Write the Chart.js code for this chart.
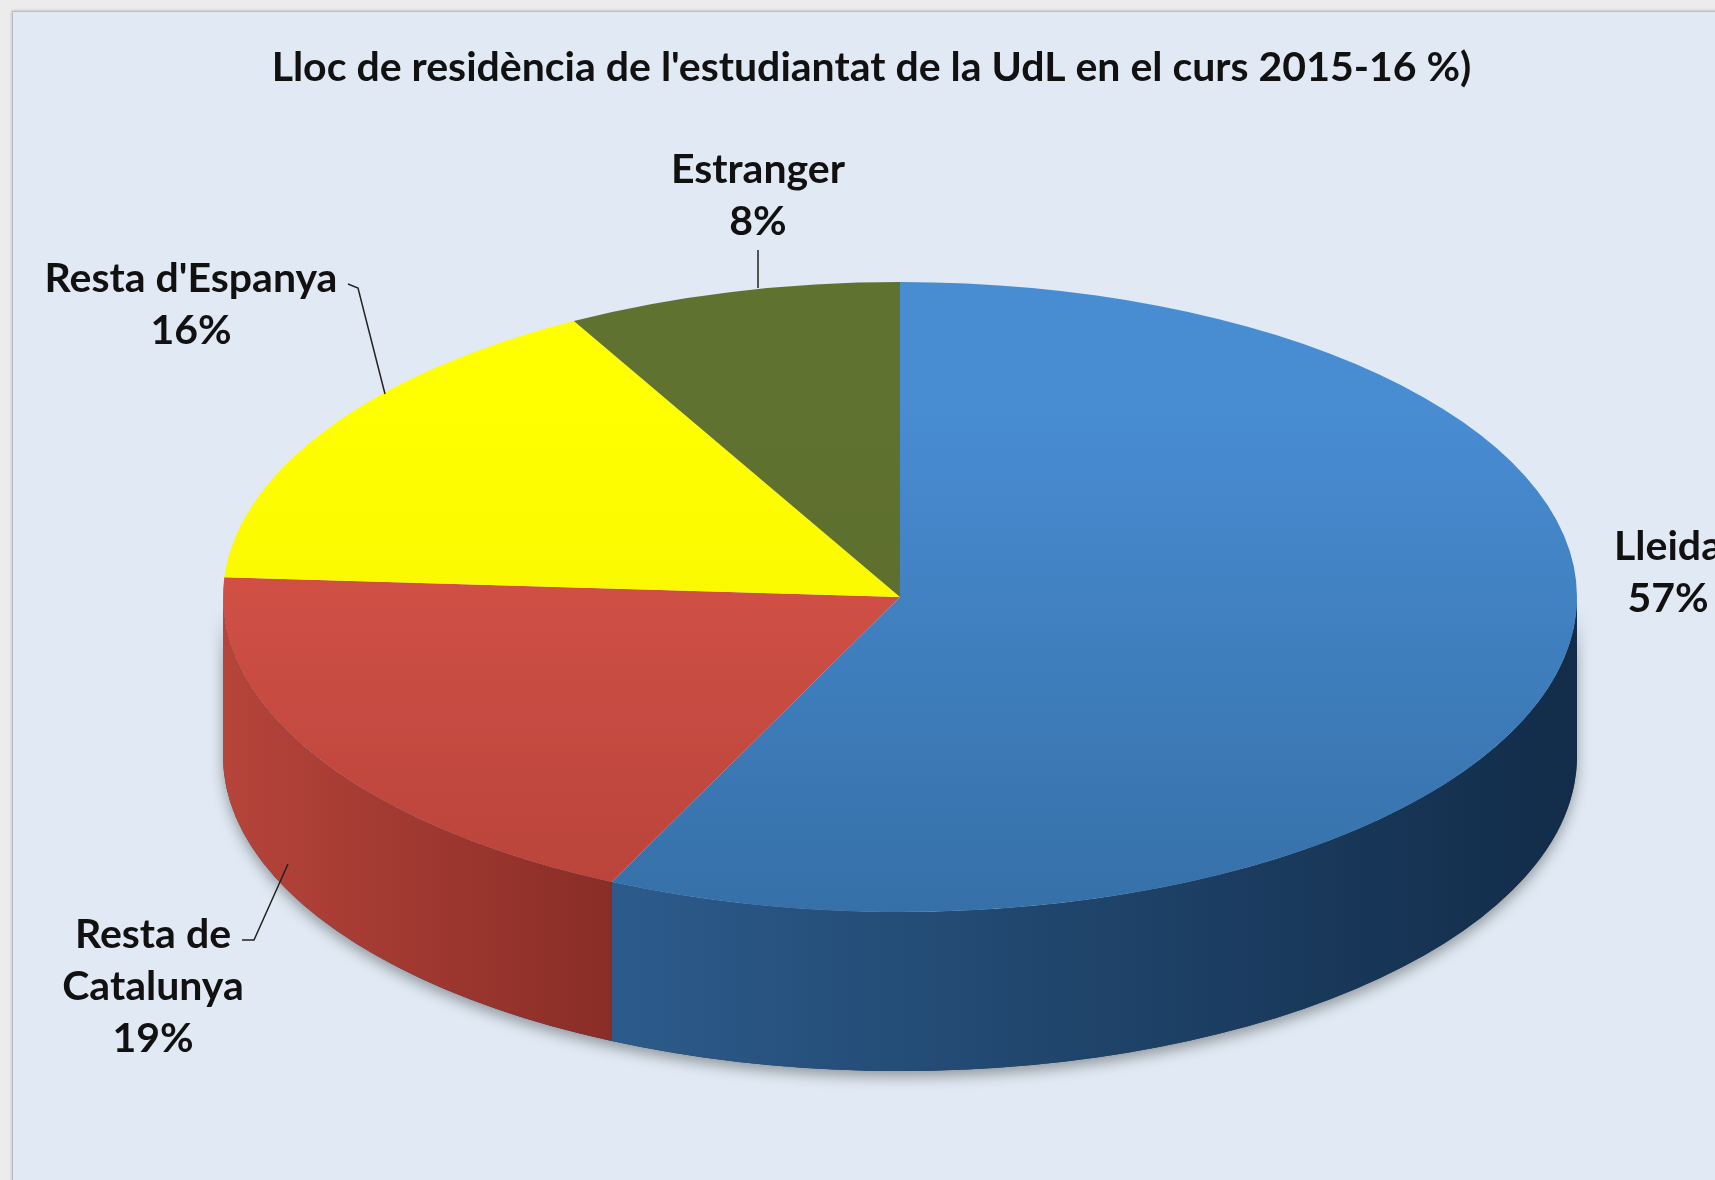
<!DOCTYPE html>
<html>
<head>
<meta charset="utf-8">
<script src="https://cdn.jsdelivr.net/npm/chart.js@4"></script>
<style>
  html, body { margin: 0; padding: 0; width: 1715px; height: 1180px; overflow: hidden; background: #ececec; }
  #panel { position: absolute; left: 12px; top: 11px; width: 1720px; height: 1200px;
           background: #e1eaf4; border: 1px solid #b7bcc4; box-shadow: 0 0 3px rgba(0,0,0,.25); }
  #c { position: absolute; left: 0; top: 0; }
</style>
</head>
<body>
<div id="panel"></div>
<canvas id="c" width="1715" height="1180"></canvas>
<script>
// --- data ---
const categories = ['Lleida', 'Resta de Catalunya', "Resta d'Espanya", 'Estranger'];
const shares = [57, 19, 16, 8];
const titleText = "Lloc de residència de l'estudiantat de la UdL en el curs 2015-16 %)";

// --- look ---
const topColors = [['#488cd2', '#3670a8'], ['#dc564b', '#b8433a'], ['#ffff00', '#f4ef00'], ['#60722f', '#5a6b2c']];
const sideColors = [['#2c5b8b', '#122c49'], ['#b6443b', '#892d26'], ['#c9c900', '#a0a000'], ['#465421', '#364119']];
const PIE = { cx: 900, cy: 597, rx: 677, ry: 315, depth: 159 };
const FONT = 'bold 41px Lato';

// label anchor (centre of first line) and leader polyline for each slice
const labelAt = [
  { x: 1668, y: 547, lines: null, leader: null },
  { x: 153, y: 935, lines: ['Resta de', 'Catalunya'], leader: [[242, 940], [254, 940], [288, 864]] },
  { x: 191, y: 279, lines: null, leader: [[348, 284], [358, 288], [385, 394]] },
  { x: 758, y: 170, lines: null, leader: [[758, 250], [758, 288]] },
];

function ellipsePath(ctx, s, e, dy) {
  ctx.ellipse(PIE.cx, PIE.cy + dy, PIE.rx, PIE.ry, 0, s, e, false);
}

// side wall of the pie, from the arc elements Chart.js laid out
function drawSides(chart) {
  const ctx = chart.ctx;
  const meta = chart.getDatasetMeta(0);
  const segs = [];
  meta.data.forEach((arc, i) => {
    const { startAngle, endAngle } = arc.getProps(['startAngle', 'endAngle'], true);
    const s = Math.max(startAngle, 0), e = Math.min(endAngle, Math.PI);
    if (e > s) segs.push({ i, s, e });
  });

  // soft shadow under the whole front wall
  ctx.save();
  ctx.shadowColor = 'rgba(0,0,0,0.35)';
  ctx.shadowBlur = 14;
  ctx.shadowOffsetY = 6;
  ctx.beginPath();
  ellipsePath(ctx, 0, Math.PI, 0);
  ctx.ellipse(PIE.cx, PIE.cy + PIE.depth, PIE.rx, PIE.ry, 0, Math.PI, 0, true);
  ctx.closePath();
  ctx.fillStyle = '#1d3a5c';
  ctx.fill();
  ctx.restore();

  segs.forEach(({ i, s, e }) => {
    const x0 = PIE.cx + PIE.rx * Math.cos(e), x1 = PIE.cx + PIE.rx * Math.cos(s);
    const g = ctx.createLinearGradient(Math.min(x0, x1), 0, Math.max(x0, x1), 0);
    g.addColorStop(0, sideColors[i][0]);
    g.addColorStop(1, sideColors[i][1]);
    ctx.beginPath();
    ellipsePath(ctx, s, e, 0);
    ctx.ellipse(PIE.cx, PIE.cy + PIE.depth, PIE.rx, PIE.ry, 0, e, s, true);
    ctx.closePath();
    ctx.fillStyle = g;
    ctx.fill();
  });
}

const pie3d = {
  id: 'pie3d',
  beforeDatasetsDraw(chart) {
    const ctx = chart.ctx;
    drawSides(chart);
    const arc = chart.getDatasetMeta(0).data[0];
    ctx.save();
    ctx.translate(PIE.cx, PIE.cy);
    ctx.scale(1, PIE.ry / PIE.rx);
    ctx.translate(-arc.x, -arc.y);
  },
  afterDatasetsDraw(chart) {
    const ctx = chart.ctx;
    ctx.restore();

    ctx.save();
    ctx.font = FONT;
    ctx.fillStyle = '#111';
    ctx.textAlign = 'center';
    ctx.textBaseline = 'middle';
    categories.forEach((name, i) => {
      const L = labelAt[i];
      const lines = (L.lines || [name]).concat([shares[i] + '%']);
      lines.forEach((t, k) => ctx.fillText(t, L.x, L.y + k * 52));
      if (L.leader) {
        ctx.beginPath();
        L.leader.forEach(([x, y], k) => k ? ctx.lineTo(x, y) : ctx.moveTo(x, y));
        ctx.strokeStyle = '#222';
        ctx.lineWidth = 1.5;
        ctx.stroke();
      }
    });
    ctx.restore();
  }
};

new Chart(document.getElementById('c'), {
  type: 'pie',
  data: {
    labels: categories,
    datasets: [{
      data: shares,
      radius: PIE.rx,
      clip: false,
      borderWidth: 0,
      backgroundColor: (c) => {
        const a = c.chart.chartArea;
        const cols = topColors[c.dataIndex];
        if (!a) return cols[0];
        const y = (a.top + a.bottom) / 2;
        const g = c.chart.ctx.createLinearGradient(0, y - PIE.rx, 0, y + PIE.rx);
        g.addColorStop(0.2, cols[0]);
        g.addColorStop(1, cols[1]);
        return g;
      },
    }],
  },
  options: {
    responsive: false,
    animation: false,
    devicePixelRatio: 1,
    events: [],
    layout: { padding: { left: 28 } },
    plugins: {
      legend: { display: false },
      tooltip: { enabled: false },
      title: {
        display: true,
        text: titleText,
        color: '#111',
        font: { family: 'Lato', weight: 'bold', size: 41 },
        padding: { top: 43, bottom: 0 },
      },
    },
  },
  plugins: [pie3d],
});
</script>
</body>
</html>
